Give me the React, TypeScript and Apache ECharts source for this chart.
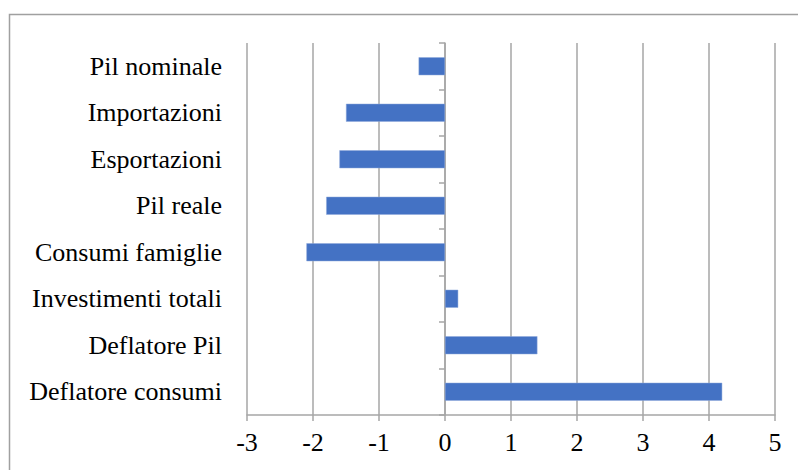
import React, { useEffect, useRef } from "react";
import * as echarts from "echarts";

const categories = [
  "Pil nominale",
  "Importazioni",
  "Esportazioni",
  "Pil reale",
  "Consumi famiglie",
  "Investimenti totali",
  "Deflatore Pil",
  "Deflatore consumi",
];
const values = [-0.4, -1.5, -1.6, -1.8, -2.1, 0.2, 1.4, 4.2];
const xMin = -3;
const xMax = 5;

export default function App() {
  const ref = useRef<HTMLDivElement>(null);
  useEffect(() => {
    if (!ref.current) return;
    const chart = echarts.init(ref.current, null, { renderer: "svg" });
    const font = "'Liberation Serif', 'Times New Roman', serif";
    chart.setOption({
      animation: false,
      textStyle: { fontFamily: font },
      graphic: [
        {
          type: "rect",
          shape: { x: 9.5, y: 14.5, width: 820, height: 500 },
          style: { fill: "none", stroke: "#A0A0A0", lineWidth: 1.5 },
          silent: true,
        },
      ],
      grid: { left: 247, right: 23, top: 43, bottom: 55, containLabel: false },
      xAxis: {
        type: "value",
        min: xMin,
        max: xMax,
        interval: 1,
        axisLine: { show: true, onZero: false, lineStyle: { color: "#A6A6A6", width: 1.5 } },
        axisTick: { show: true, length: 6, lineStyle: { color: "#A6A6A6", width: 1.5 } },
        axisLabel: { color: "#000", fontSize: 26, fontFamily: font, margin: 14 },
        splitLine: { show: true, lineStyle: { color: "#A6A6A6", width: 1.5 } },
      },
      yAxis: [
        {
          type: "category",
          data: categories,
          inverse: true,
          position: "left",
          axisLine: { show: false },
          axisTick: { show: false },
          axisLabel: { color: "#000", fontSize: 26, fontFamily: font, margin: 25 },
          splitLine: { show: false },
        },
        {
          type: "category",
          data: categories,
          inverse: true,
          position: "left",
          axisLine: { show: true, onZero: true, onZeroAxisIndex: 0, lineStyle: { color: "#A6A6A6", width: 1.5 } },
          axisTick: { show: true, length: 6, lineStyle: { color: "#A6A6A6", width: 1.5 } },
          axisLabel: { show: false },
          splitLine: { show: false },
        },
      ],
      series: [
        {
          type: "bar",
          data: values,
          yAxisIndex: 0,
          barWidth: 18,
          itemStyle: { color: "#4472C4", borderColor: "#8EA9DB", borderWidth: 0.5 },
        },
      ],
    });
    return () => chart.dispose();
  }, []);
  return (
    <div
      ref={ref}
      style={{ position: "fixed", left: 0, top: 0, width: 798, height: 470, background: "#fff" }}
    />
  );
}
